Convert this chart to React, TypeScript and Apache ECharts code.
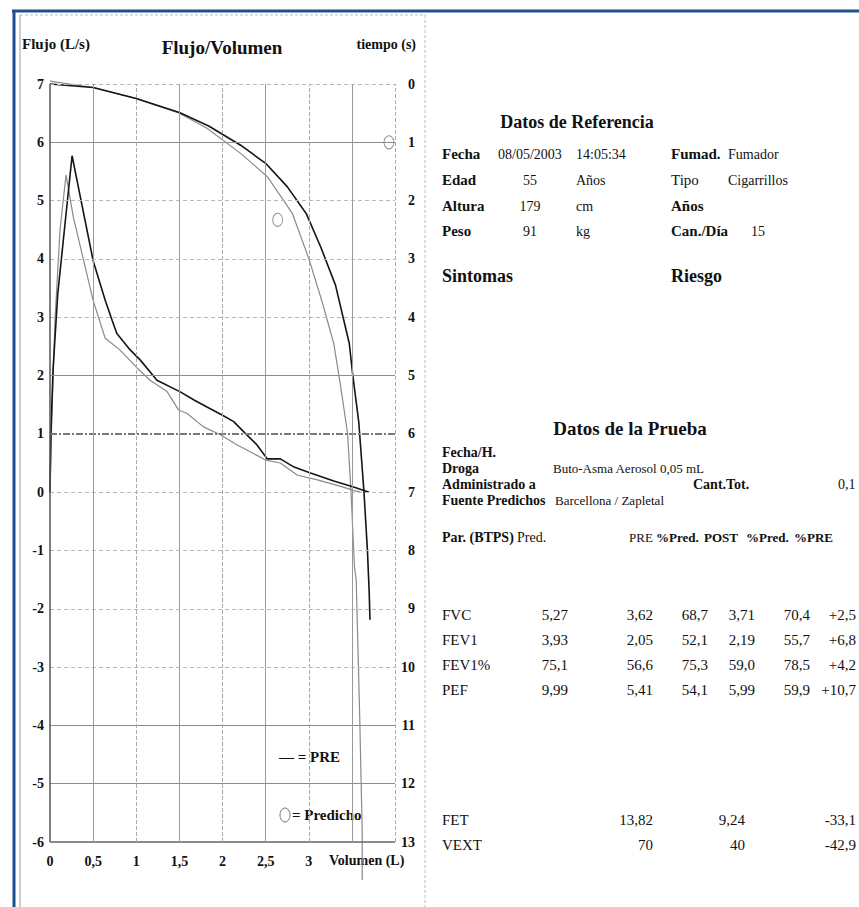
import React, { useEffect, useRef } from 'react';
import * as echarts from 'echarts';

// ---- Flow-volume loops: [volume (L), flow (L/s)] ----
const fvPost: number[][] = [
  [0, 0], [0.01, 1.0], [0.035, 2.1], [0.09, 3.4], [0.256, 5.77], [0.5, 3.97], [0.64, 3.29],
  [0.72, 2.95], [0.775, 2.72], [0.93, 2.44], [1.05, 2.26], [1.24, 1.92], [1.51, 1.72],
  [1.67, 1.58], [1.82, 1.46], [2.0, 1.32], [2.13, 1.21], [2.25, 1.03], [2.4, 0.81],
  [2.52, 0.57], [2.67, 0.57], [2.83, 0.43], [3.02, 0.33], [3.29, 0.19], [3.52, 0.09], [3.7, 0.0],
];
const fvPre: number[][] = [
  [0, 0], [0.02, 1.2], [0.058, 2.95], [0.116, 4.5], [0.186, 5.44], [0.27, 4.72], [0.5, 3.29],
  [0.64, 2.64], [0.81, 2.44], [1.01, 2.13], [1.16, 1.92], [1.36, 1.72], [1.49, 1.41],
  [1.59, 1.35], [1.78, 1.12], [1.98, 0.98], [2.17, 0.81], [2.25, 0.75], [2.5, 0.55],
  [2.67, 0.5], [2.87, 0.29], [3.1, 0.21], [3.37, 0.1], [3.52, 0.03], [3.6, 0.0],
];

// ---- Volume-time curves: [volume (L), time (s)] ----
const vtPost: number[][] = [
  [0, 0], [0.5, 0.06], [1.0, 0.25], [1.5, 0.49], [1.84, 0.72], [2.21, 1.05], [2.5, 1.36],
  [2.75, 1.76], [2.97, 2.22], [3.14, 2.8], [3.31, 3.45], [3.47, 4.45], [3.51, 4.99],
  [3.58, 5.8], [3.64, 6.99], [3.68, 7.99], [3.7, 8.68], [3.71, 9.19],
];
const vtPre: number[][] = [
  [0, -0.05], [0.5, 0.06], [1.0, 0.25], [1.5, 0.5], [1.82, 0.76], [2.21, 1.19], [2.52, 1.59],
  [2.81, 2.22], [3.0, 2.99], [3.16, 3.76], [3.29, 4.45], [3.37, 5.19], [3.45, 5.99],
  [3.49, 6.99], [3.53, 8.28], [3.55, 8.5], [3.59, 10.79], [3.62, 12.85], [3.62, 13.65],
];

// ---- Predicted points ----
const predFlowPoints: number[][] = [[2.64, 4.67]];
const predTimePoints: number[][] = [[3.93, 1.0]];

// ---- Grid lines ----
const flowGrid = [7, 6, 5, 4, 3, 2, 1, 0, -1, -2, -3, -4, -5, -6];
const volGrid = [0, 0.5, 1, 1.5, 2, 2.5, 3, 3.5, 4];

// ---- Right panel texts ----
const paramNames = ['FVC', 'FEV1', 'FEV1%', 'PEF'];
const predVals = ['5,27', '3,93', '75,1', '9,99'];
const preVals = ['3,62', '2,05', '56,6', '5,41'];
const prePct = ['68,7', '52,1', '75,3', '54,1'];
const postVals = ['3,71', '2,19', '59,0', '5,99'];
const postPct = ['70,4', '55,7', '78,5', '59,9'];
const chgPct = ['+2,5', '+6,8', '+4,2', '+10,7'];
const extraNames = ['FET', 'VEXT'];
const extraPre = ['13,82', '70'];
const extraPost = ['9,24', '40'];
const extraChg = ['-33,1', '-42,9'];

const SERIF = '"Liberation Serif", "DejaVu Serif", serif';

function txt(x: number, y: number, text: string, size: number, bold: boolean, align: string = 'left', fill = '#111') {
  return {
    type: 'text',
    x,
    y,
    silent: true,
    style: {
      text,
      fontFamily: SERIF,
      fontSize: size,
      fontWeight: bold ? 'bold' : 'normal',
      fill,
      textAlign: align,
      textVerticalAlign: 'middle',
    },
  };
}

export default function App() {
  const ref = useRef<HTMLDivElement>(null);
  useEffect(() => {
    if (!ref.current) return;
    const chart = echarts.init(ref.current, undefined, { renderer: 'svg' });

    const hStyle = (v: number) => {
      if (v === 1) return { color: '#7a7a7a', width: 2, type: [7, 2, 2, 2] };
      if (v === -6) return { color: '#666', width: 1.5, type: 'solid' };
      if ([6, 2, -4, -5].includes(v)) return { color: '#8c8c8c', width: 1, type: 'solid' };
      return { color: '#b8b8b8', width: 1, type: [4, 3] };
    };
    const vStyle = (v: number) => {
      if (v === 0) return { color: '#555', width: 1.5, type: 'solid' };
      if ([0.5, 1.5, 2.5, 3.5].includes(v)) return { color: '#999', width: 1, type: 'solid' };
      return { color: '#aaa', width: 1, type: [4, 2] };
    };

    const markData: any[] = [
      ...flowGrid.map((v) => ({ yAxis: v, lineStyle: hStyle(v) })),
      ...volGrid.map((v) => ({ xAxis: v, lineStyle: vStyle(v) })),
    ];

    const graphics: any[] = [];
    // frame
    graphics.push({ type: 'line', shape: { x1: 20, y1: 15, x2: 426, y2: 15 }, style: { stroke: '#bbb', lineWidth: 1, lineDash: [3, 2] }, silent: true });
    graphics.push({ type: 'line', shape: { x1: 20, y1: 15, x2: 20, y2: 907 }, style: { stroke: '#999', lineWidth: 1 }, silent: true });
    graphics.push({ type: 'line', shape: { x1: 425, y1: 15, x2: 425, y2: 907 }, style: { stroke: '#bbb', lineWidth: 1, lineDash: [3, 2] }, silent: true });
    graphics.push({ type: 'line', shape: { x1: 12, y1: 11, x2: 859, y2: 11 }, style: { stroke: '#1f4f8c', lineWidth: 3 }, silent: true });
    graphics.push({ type: 'line', shape: { x1: 14, y1: 10, x2: 14, y2: 907 }, style: { stroke: '#1f4f8c', lineWidth: 3 }, silent: true });

    // chart titles
    graphics.push(txt(22, 44, 'Flujo (L/s)', 15, true));
    graphics.push(txt(222, 47, 'Flujo/Volumen', 19, true, 'center'));
    graphics.push(txt(416, 44, 'tiempo (s)', 14, true, 'right'));
    graphics.push(txt(329, 860, 'Volumen (L)', 14, true));
    // legend
    graphics.push(txt(279, 757, '— = PRE', 15, true));
    graphics.push({ type: 'ellipse', shape: { cx: 285, cy: 815, rx: 5, ry: 7 }, style: { fill: 'none', stroke: '#777', lineWidth: 1 }, silent: true });
    graphics.push(txt(292, 815, '= Predicho', 15, true));

    // right panel
    graphics.push(txt(577, 122, 'Datos de Referencia', 18, true, 'center'));
    const refRows: [string, string, string, string, boolean, string][] = [
      ['Fecha', '08/05/2003', '14:05:34', 'Fumad.', true, 'Fumador'],
      ['Edad', '55', 'Años', 'Tipo', false, 'Cigarrillos'],
      ['Altura', '179', 'cm', 'Años', true, ''],
      ['Peso', '91', 'kg', 'Can./Día', true, '15'],
    ];
    const refY = [154, 180, 206, 231];
    refRows.forEach((r, i) => {
      const y = refY[i];
      graphics.push(txt(442, y, r[0], 15, true));
      if (i === 0) graphics.push(txt(498, y, r[1], 14, false));
      else graphics.push(txt(530, y, r[1], 14, false, 'center'));
      graphics.push(txt(576, y, r[2], 14, false));
      graphics.push(txt(671, y, r[3], 15, r[4]));
      graphics.push(txt(i === 3 ? 751 : 728, y, r[5], 14, false));
    });
    graphics.push(txt(442, 276, 'Sintomas', 18, true));
    graphics.push(txt(671, 276, 'Riesgo', 18, true));

    graphics.push(txt(630, 428, 'Datos de la Prueba', 19, true, 'center'));
    graphics.push(txt(442, 452, 'Fecha/H.', 14, true));
    graphics.push(txt(442, 468, 'Droga', 14, true));
    graphics.push(txt(553, 468, 'Buto-Asma Aerosol 0,05 mL', 13, false));
    graphics.push(txt(442, 484, 'Administrado a', 14, true));
    graphics.push(txt(693, 484, 'Cant.Tot.', 14, true));
    graphics.push(txt(838, 484, '0,1', 14, false));
    graphics.push(txt(442, 500, 'Fuente Predichos', 14, true));
    graphics.push(txt(555, 500, 'Barcellona / Zapletal', 13, false));

    const hy = 537;
    graphics.push(txt(442, hy, 'Par. (BTPS)', 14, true));
    graphics.push(txt(517, hy, 'Pred.', 14, false));
    graphics.push(txt(629, hy, 'PRE', 13, false));
    graphics.push(txt(656, hy, '%Pred.', 13, true));
    graphics.push(txt(704, hy, 'POST', 13, true));
    graphics.push(txt(746, hy, '%Pred.', 13, true));
    graphics.push(txt(794, hy, '%PRE', 13, true));

    const rowY = [615, 640, 665, 690];
    paramNames.forEach((n, i) => {
      const y = rowY[i];
      graphics.push(txt(442, y, n, 15, false));
      graphics.push(txt(568, y, predVals[i], 15, false, 'right'));
      graphics.push(txt(653, y, preVals[i], 15, false, 'right'));
      graphics.push(txt(708, y, prePct[i], 15, false, 'right'));
      graphics.push(txt(755, y, postVals[i], 15, false, 'right'));
      graphics.push(txt(810, y, postPct[i], 15, false, 'right'));
      graphics.push(txt(856, y, chgPct[i], 15, false, 'right'));
    });
    const exY = [820, 845];
    extraNames.forEach((n, i) => {
      const y = exY[i];
      graphics.push(txt(442, y, n, 15, false));
      graphics.push(txt(653, y, extraPre[i], 15, false, 'right'));
      graphics.push(txt(745, y, extraPost[i], 15, false, 'right'));
      graphics.push(txt(856, y, extraChg[i], 15, false, 'right'));
    });

    const labelFont = { fontFamily: SERIF, fontWeight: 'bold' as const, fontSize: 14, color: '#111' };

    chart.setOption({
      animation: false,
      backgroundColor: '#fff',
      grid: { left: 50, right: 464, top: 84, bottom: 65, containLabel: false },
      xAxis: {
        type: 'value',
        min: 0,
        max: 4,
        interval: 0.5,
        axisLine: { show: false },
        axisTick: { show: false },
        splitLine: { show: false },
        axisLabel: {
          ...labelFont,
          margin: 12,
          formatter: (v: number) => (v > 3 ? '' : String(v).replace('.', ',')),
        },
      },
      yAxis: [
        {
          type: 'value',
          min: -6,
          max: 7,
          interval: 1,
          axisLine: { show: false },
          axisTick: { show: false },
          splitLine: { show: false },
          axisLabel: { ...labelFont, margin: 6 },
        },
        {
          type: 'value',
          min: 0,
          max: 13,
          interval: 1,
          inverse: true,
          position: 'right',
          axisLine: { show: false },
          axisTick: { show: false },
          splitLine: { show: false },
          axisLabel: { ...labelFont, margin: 20, align: 'right' },
        },
      ],
      series: [
        {
          type: 'line',
          name: 'grid',
          data: [],
          silent: true,
          z: 1,
          markLine: { silent: true, symbol: 'none', label: { show: false }, data: markData, animation: false },
        },
        {
          type: 'line', name: 'PRE FV', data: fvPre, showSymbol: false, symbol: 'none', z: 3,
          lineStyle: { color: '#8a8a8a', width: 1.2 },
        },
        {
          type: 'line', name: 'POST FV', data: fvPost, showSymbol: false, symbol: 'none', z: 4,
          lineStyle: { color: '#151515', width: 1.6 },
        },
        {
          type: 'line', name: 'PRE VT', data: vtPre, yAxisIndex: 1, clip: false, showSymbol: false, symbol: 'none', z: 3,
          lineStyle: { color: '#8a8a8a', width: 1.2 },
        },
        {
          type: 'line', name: 'POST VT', data: vtPost, yAxisIndex: 1, clip: false, showSymbol: false, symbol: 'none', z: 4,
          lineStyle: { color: '#151515', width: 1.6 },
        },
        {
          type: 'scatter', name: 'Predicho', data: predFlowPoints, symbol: 'circle', symbolSize: [10, 13], z: 5,
          itemStyle: { color: 'rgba(0,0,0,0)', borderColor: '#777', borderWidth: 1 },
        },
        {
          type: 'scatter', name: 'Predicho t', data: predTimePoints, yAxisIndex: 1, symbol: 'circle', symbolSize: [10, 13], z: 5,
          itemStyle: { color: 'rgba(0,0,0,0)', borderColor: '#777', borderWidth: 1 },
        },
      ],
      graphic: { elements: graphics },
    });
    return () => chart.dispose();
  }, []);

  return <div ref={ref} style={{ position: 'fixed', left: 0, top: 0, width: 859, height: 907 }} />;
}
